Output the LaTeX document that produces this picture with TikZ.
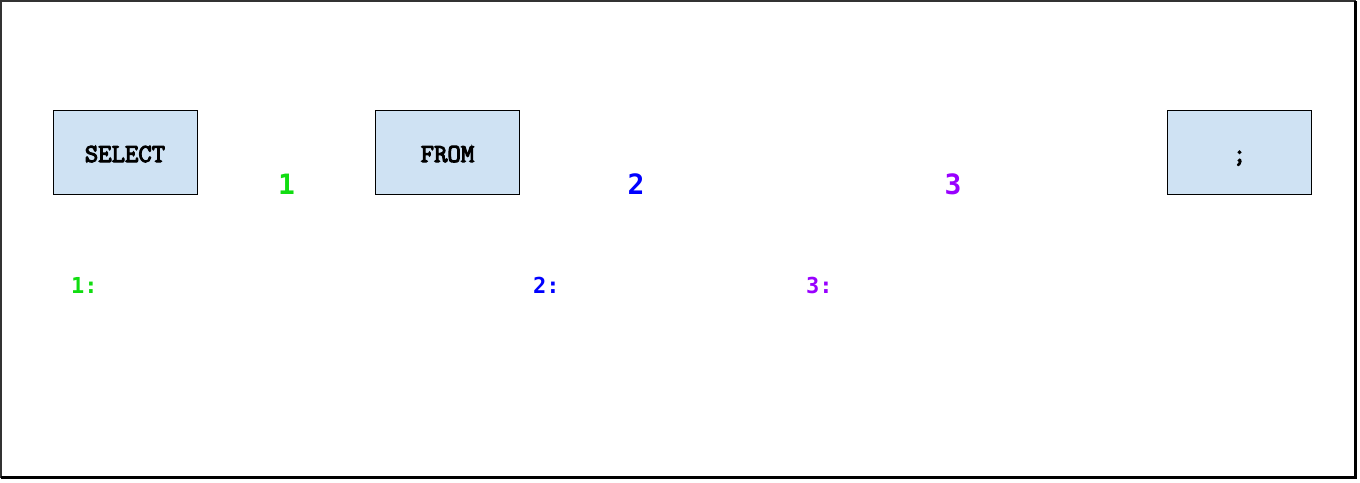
\documentclass[tikz,border=0pt]{standalone}
\usepackage{fontspec}
\newfontfamily\nfont{DejaVu Sans Mono}
\newfontfamily\kwfont{Latin Modern Mono}[FakeBold=4]
\definecolor{boxblue}{HTML}{CFE2F3}
\definecolor{cgreen}{HTML}{11DD11}
\definecolor{cblue}{HTML}{0000FF}
\definecolor{cpurple}{HTML}{9900FF}
\tikzset{
  kwbox/.style={draw=black, line width=0.9pt, fill=boxblue, minimum width=144pt, minimum height=84pt, inner sep=0pt},
  kwtext/.style={anchor=base, inner sep=0pt, font=\kwfont\fontsize{26}{26}\selectfont},
  bignum/.style={anchor=base, inner sep=0pt, font=\nfont\bfseries\fontsize{28}{28}\selectfont},
  lbl/.style={anchor=base west, inner sep=0pt, font=\nfont\bfseries\fontsize{22}{22}\selectfont},
}
\begin{document}
\begin{tikzpicture}[x=1pt,y=-1pt]
\useasboundingbox (0,0) rectangle (1360,482);
\fill[white] (0,0) rectangle (1360,482);
% frame
\draw[line width=1.5pt, draw=black!80] (1,1) rectangle (1355,477);
\draw[line width=3.5pt, draw=black] (1355.5,1) -- (1355.5,477.5) -- (1,477.5);
% boxes
\node[kwbox] (sel) at (125,152) {};
\node[kwbox] (from) at (447.5,152) {};
\node[kwbox] (semi) at (1239.5,152) {};
\node[kwtext] (selt) at ([yshift=-10pt]sel.center) {SELECT};
\node[kwtext] (fromt) at ([yshift=-10pt]from.center) {FROM};
\node[kwtext] (semit) at ([yshift=-10pt]semi.center) {;};
% numbers
\node[bignum, text=cgreen] (n1) at (286.5,194) {1};
\node[bignum, text=cblue] (n2) at (636,194) {2};
\node[bignum, text=cpurple] (n3) at (953,194) {3};
% labels
\node[lbl, text=cgreen] (l1) at (71,293) {1:};
\node[lbl, text=cblue] (l2) at (533,293) {2:};
\node[lbl, text=cpurple] (l3) at (806,293) {3:};
\end{tikzpicture}
\end{document}
